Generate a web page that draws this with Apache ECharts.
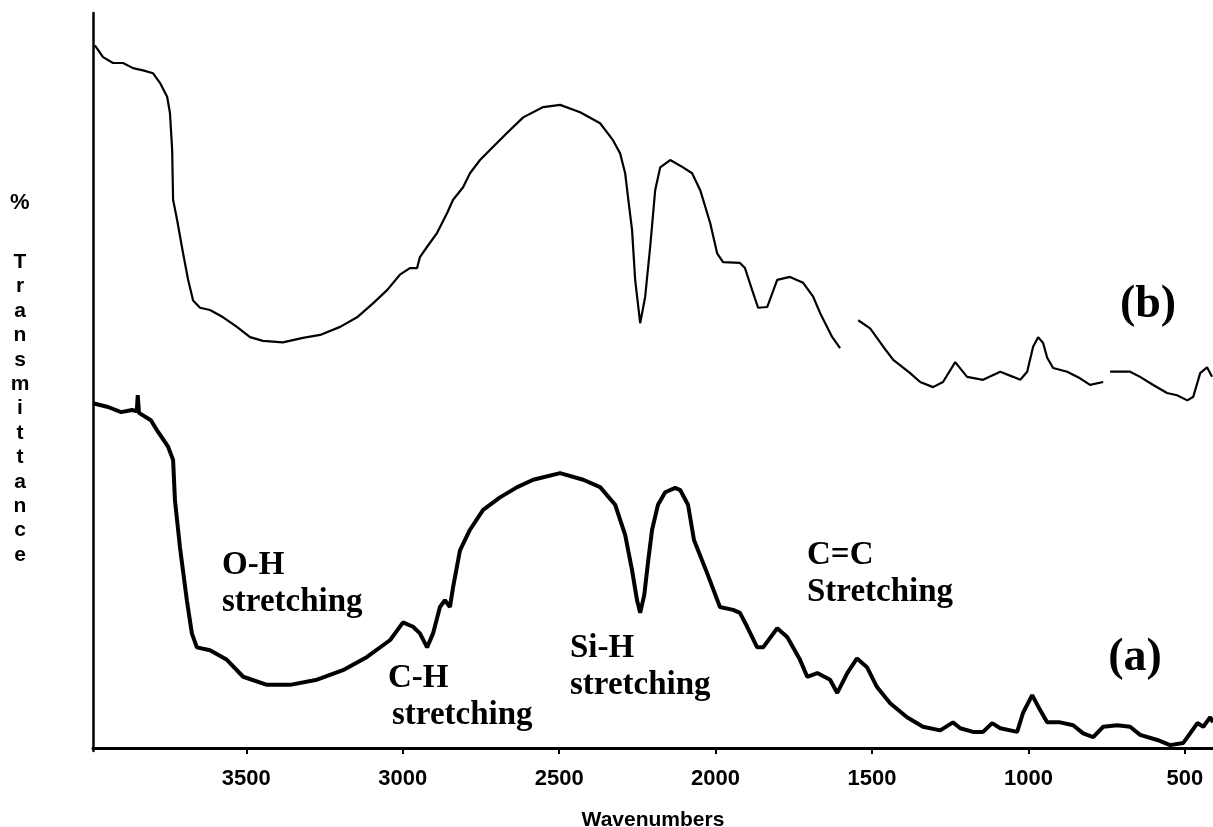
<!DOCTYPE html>
<html>
<head>
<meta charset="utf-8">
<title>FTIR spectra</title>
<script src="https://cdn.jsdelivr.net/npm/echarts@6/dist/echarts.min.js"></script>
<style>
  html, body { margin: 0; padding: 0; background: #fff; }
  #main { width: 1213px; height: 827px; }
</style>
</head>
<body>
<div id="main"></div>
<script>
// wavenumber ticks
var tickValues = [500, 1000, 1500, 2000, 2500, 3000, 3500];

// curve (a), lower trace
var waveA = [3990, 3942, 3900, 3865, 3850, 3847, 3843, 3805, 3782, 3750, 3734, 3728, 3712, 3690, 3674, 3658,
  3616, 3562, 3510, 3434, 3360, 3274, 3191, 3114, 3040, 2999, 2967, 2945, 2922, 2903, 2881, 2865, 2849, 2839,
  2817, 2785, 2743, 2689, 2634, 2583, 2497, 2423, 2369, 2321, 2289, 2267, 2251, 2241, 2228, 2215, 2203, 2184,
  2161, 2129, 2113, 2088, 2069, 2027, 1986, 1944, 1922, 1899, 1867, 1848, 1803, 1771, 1730, 1707, 1675, 1634,
  1611, 1579, 1548, 1516, 1484, 1442, 1388, 1337, 1282, 1241, 1218, 1177, 1145, 1116, 1090, 1036, 1017, 988,
  963, 940, 899, 857, 825, 793, 761, 716, 675, 643, 588, 547, 505, 483, 460, 441, 419, 410];
var transA = [46.9, 46.4, 45.7, 46.0, 45.8, 48.0, 45.6, 44.6, 43.0, 41.0, 39.2, 33.7, 27.3, 20.1, 15.6, 13.7,
  13.3, 12.0, 9.7, 8.6, 8.6, 9.3, 10.6, 12.4, 14.7, 17.1, 16.5, 15.6, 13.7, 15.6, 19.2, 20.1, 19.2, 21.9,
  26.9, 29.7, 32.4, 34.1, 35.5, 36.5, 37.4, 36.5, 35.5, 33.1, 29.0, 24.2, 20.1, 18.4, 20.8, 25.6, 29.7, 33.1,
  34.8, 35.4, 35.1, 33.1, 28.3, 23.8, 19.2, 18.8, 18.4, 16.5, 13.7, 13.7, 16.3, 15.1, 12.0, 9.7, 10.2, 9.3,
  7.5, 10.2, 12.2, 11.0, 8.3, 6.1, 4.2, 2.9, 2.4, 3.5, 2.7, 2.2, 2.2, 3.4, 2.7, 2.2, 4.8, 7.2,
  5.2, 3.5, 3.5, 3.1, 2.0, 1.5, 2.9, 3.1, 2.9, 1.8, 1.1, 0.4, 0.7, 2.0, 3.4, 2.9, 4.2, 3.5];

// curve (b), upper trace (null = break in the trace)
var waveB = [3984, 3958, 3926, 3894, 3862, 3830, 3798, 3776, 3753, 3744, 3737, 3734, 3721, 3702, 3686, 3670,
  3648, 3616, 3574, 3530, 3488, 3447, 3383, 3319, 3264, 3200, 3146, 3095, 3050, 3009, 2977, 2954, 2945, 2922,
  2890, 2858, 2839, 2807, 2785, 2753, 2711, 2666, 2615, 2551, 2497, 2433, 2369, 2328, 2305, 2289, 2280, 2267,
  2257, 2241, 2225, 2209, 2193, 2177, 2145, 2104, 2075, 2049, 2017, 1995, 1976, 1922, 1906, 1883, 1864, 1835,
  1803, 1762, 1720, 1688, 1666, 1627, 1602, 1575, 1544, 1506, 1464, 1432, 1378, 1346, 1305, 1273, 1234, 1196,
  1145, 1090, 1049, 1026, 1004, 985, 969, 953, 940, 921, 876, 835, 803, 761, 750, 739, 675, 643, 601, 557,
  525, 492, 473, 451, 429, 413];
var transB = [95.6, 94.0, 93.2, 93.2, 92.5, 92.2, 91.8, 90.5, 88.6, 86.4, 81.4, 74.6, 71.8, 67.3, 63.7, 60.9,
  59.9, 59.6, 58.6, 57.3, 55.9, 55.4, 55.2, 55.8, 56.2, 57.3, 58.6, 60.5, 62.3, 64.4, 65.3, 65.3, 66.8, 68.2,
  70.1, 72.8, 74.6, 76.3, 78.2, 80.0, 81.8, 83.7, 85.8, 87.2, 87.5, 86.5, 85.0, 82.7, 80.9, 78.2, 75.0, 70.5,
  63.7, 57.8, 61.4, 68.2, 75.9, 79.0, 80.0, 79.0, 78.2, 75.9, 71.4, 67.3, 66.1, 66.0, 65.3, 62.3, 59.9, 60.0,
  63.7, 64.1, 63.3, 61.4, 59.2, 55.9, 54.4, null, 58.2, 57.1, 54.6, 52.8, 51.0, 49.8, 49.1, 49.8, 52.5, 50.5,
  50.1, 51.2, 50.5, 50.1, 51.2, 54.6, 55.9, 55.1, 53.1, 51.7, 51.2, 50.3, 49.4, 49.8, null, 51.2, 51.2, 50.5, 49.4, 48.3,
  48.0, 47.3, 47.8, 51.0, 51.8, 50.5];

function pairs(xs, ys) {
    return xs.map(function (x, i) { return [x, ys[i]]; });
}

var yLetters = ['T', 'r', 'a', 'n', 's', 'm', 'i', 't', 't', 'a', 'n', 'c', 'e'];

var myChart = echarts.init(document.getElementById('main'));

var serif = '"Liberation Serif", "Times New Roman", serif';
var sans = '"Liberation Sans", Arial, sans-serif';

var option = {
    backgroundColor: '#fff',
    animation: false,
    grid: {
        left: 93,
        right: 0,
        top: 13,
        bottom: 76,
        outerBoundsMode: 'none'
    },
    xAxis: {
        type: 'value',
        inverse: true,
        min: 410,
        max: 3990,
        name: 'Wavenumbers',
        nameLocation: 'middle',
        nameGap: 59,
        nameTextStyle: {
            color: '#000',
            fontFamily: sans,
            fontWeight: 'bold',
            fontSize: 21
        },
        axisLine: { lineStyle: { color: '#000', width: 3 } },
        axisTick: {
            show: true,
            length: 6,
            customValues: tickValues,
            lineStyle: { color: '#000', width: 2 }
        },
        axisLabel: {
            customValues: tickValues,
            margin: 17,
            color: '#000',
            fontFamily: sans,
            fontWeight: 'bold',
            fontSize: 22,
            formatter: function (v) { return String(v); }
        },
        splitLine: { show: false }
    },
    yAxis: {
        type: 'value',
        min: -0.4,
        max: 100,
        axisLine: { show: true, lineStyle: { color: '#000', width: 2.5 } },
        axisTick: { show: false },
        axisLabel: { show: false },
        splitLine: { show: false }
    },
    series: [
        {
            name: '(a)',
            type: 'line',
            showSymbol: false,
            connectNulls: false,
            lineStyle: { color: '#000', width: 4 },
            data: pairs(waveA, transA)
        },
        {
            name: '(b)',
            type: 'line',
            showSymbol: false,
            connectNulls: false,
            lineStyle: { color: '#000', width: 2.2 },
            data: pairs(waveB, transB)
        }
    ],
    graphic: [
        { type: 'text', left: 10, top: 192, style: { text: '%', fill: '#000', fontFamily: sans, fontWeight: 'bold', fontSize: 22 } },
        { type: 'text', x: 20, y: 250, style: { text: yLetters.join('\n'), fill: '#000', fontFamily: sans, fontWeight: 'bold', fontSize: 21, lineHeight: 24.4, align: 'center', verticalAlign: 'top' } },
        { type: 'text', x: 222, y: 547, style: { text: 'O-H\nstretching', fill: '#000', fontFamily: serif, fontWeight: 'bold', fontSize: 33, lineHeight: 37, align: 'left', verticalAlign: 'top' } },
        { type: 'text', x: 388, y: 660, style: { text: 'C-H', fill: '#000', fontFamily: serif, fontWeight: 'bold', fontSize: 33, lineHeight: 37, align: 'left', verticalAlign: 'top' } },
        { type: 'text', x: 392, y: 697, style: { text: 'stretching', fill: '#000', fontFamily: serif, fontWeight: 'bold', fontSize: 33, lineHeight: 37, align: 'left', verticalAlign: 'top' } },
        { type: 'text', x: 570, y: 630, style: { text: 'Si-H\nstretching', fill: '#000', fontFamily: serif, fontWeight: 'bold', fontSize: 33, lineHeight: 37, align: 'left', verticalAlign: 'top' } },
        { type: 'text', x: 807, y: 537, style: { text: 'C=C\nStretching', fill: '#000', fontFamily: serif, fontWeight: 'bold', fontSize: 33, lineHeight: 37, align: 'left', verticalAlign: 'top' } },
        { type: 'text', x: 1148, y: 305, style: { text: '(b)', fill: '#000', fontFamily: serif, fontWeight: 'bold', fontSize: 46, align: 'center', verticalAlign: 'middle' } },
        { type: 'text', x: 1135, y: 658, style: { text: '(a)', fill: '#000', fontFamily: serif, fontWeight: 'bold', fontSize: 46, align: 'center', verticalAlign: 'middle' } }
    ]
};

myChart.setOption(option);
</script>
</body>
</html>
